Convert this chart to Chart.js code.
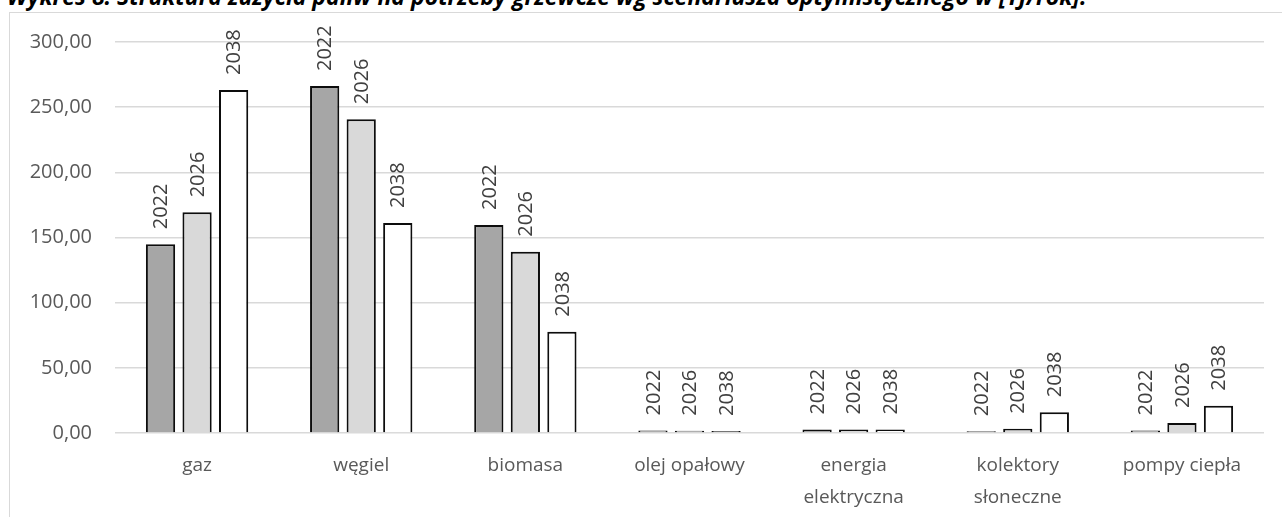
<!DOCTYPE html>
<html>
<head>
<meta charset="utf-8">
<script src="https://cdn.jsdelivr.net/npm/chart.js@4.4.1/dist/chart.umd.min.js"></script>
<style>
  body { margin: 0; background: #fff; width: 1282px; height: 517px; overflow: hidden; position: relative; font-family: 'Open Sans', sans-serif; }
  #title { position: absolute; left: 7px; top: -19px; line-height: 30px; font-style: italic; font-weight: bold; font-size: 23px; white-space: nowrap; color: #000; }
  #frame { position: absolute; left: 9px; top: 12px; width: 1300px; height: 600px; border: 1px solid #d9d9d9; }
  #chart { position: absolute; left: 0; top: 0; }
</style>
</head>
<body>
<div id="title">Wykres 8. Struktura zużycia paliw na potrzeby grzewcze wg scenariusza optymistycznego w [TJ/rok].</div>
<div id="frame"></div>
<canvas id="chart" width="1282" height="517"></canvas>
<script>
const categories = ['gaz', 'węgiel', 'biomasa', 'olej opałowy', ['energia', 'elektryczna'], ['kolektory', 'słoneczne'], 'pompy ciepła'];
const years = ['2022', '2026', '2038'];
const values2022 = [144.8, 266.2, 159.6, 2.0, 2.6, 1.4, 2.0];
const values2026 = [169.3, 240.7, 139.1, 1.8, 2.6, 3.2, 7.7];
const values2038 = [263.2, 161.1, 77.7, 1.5, 2.6, 15.9, 21.0];
const yTicks = [0, 50, 100, 150, 200, 250, 300];

const fills = ['#a6a6a6', '#d9d9d9', '#ffffff'];

// year written vertically above every bar
const yearLabels = {
   id: 'yearLabels',
   afterDatasetsDraw(chart) {
      const ctx = chart.ctx;
      ctx.save();
      ctx.font = '20px "Open Sans"';
      ctx.fillStyle = '#404040';
      ctx.textAlign = 'left';
      ctx.textBaseline = 'middle';
      chart.data.datasets.forEach((ds, i) => {
         chart.getDatasetMeta(i).data.forEach(bar => {
            ctx.save();
            ctx.translate(bar.x + 1, bar.y - 15);
            ctx.rotate(-Math.PI / 2);
            ctx.fillText(ds.label, 0, 0);
            ctx.restore();
         });
      });
      ctx.restore();
   }
};

const series = [values2022, values2026, values2038];

new Chart(document.getElementById('chart').getContext('2d'), {
   type: 'bar',
   data: {
      labels: categories,
      datasets: years.map((y, i) => ({
         label: y,
         data: series[i],
         backgroundColor: fills[i],
         borderColor: '#0d0d0d',
         borderWidth: 2,
         borderSkipped: 'start',
         categoryPercentage: 0.668,
         barPercentage: 0.8
      }))
   },
   options: {
      responsive: false,
      animation: false,
      devicePixelRatio: 1,
      layout: { padding: { left: 0, top: 42, right: 18, bottom: 0 } },
      plugins: {
         legend: { display: false },
         tooltip: { enabled: false }
      },
      scales: {
         x: {
            grid: { display: false },
            border: { display: false },
            ticks: {
               color: '#595959',
               font: { family: 'Open Sans', size: 19, lineHeight: 1.7 },
               padding: 8,
               maxRotation: 0,
               autoSkip: false
            },
            afterFit: scale => { scale.height = 84; }
         },
         y: {
            min: 0,
            max: 300,
            afterBuildTicks: scale => { scale.ticks = yTicks.map(v => ({ value: v })); },
            grid: { color: '#d9d9d9', lineWidth: 1.5, drawTicks: false },
            border: { display: false },
            ticks: {
               color: '#595959',
               font: { family: 'Open Sans', size: 20 },
               padding: 23,
               callback: v => v.toFixed(2).replace('.', ',')
            },
            afterFit: scale => { scale.width = 115; }
         }
      }
   },
   plugins: [yearLabels]
});
</script>
</body>
</html>
